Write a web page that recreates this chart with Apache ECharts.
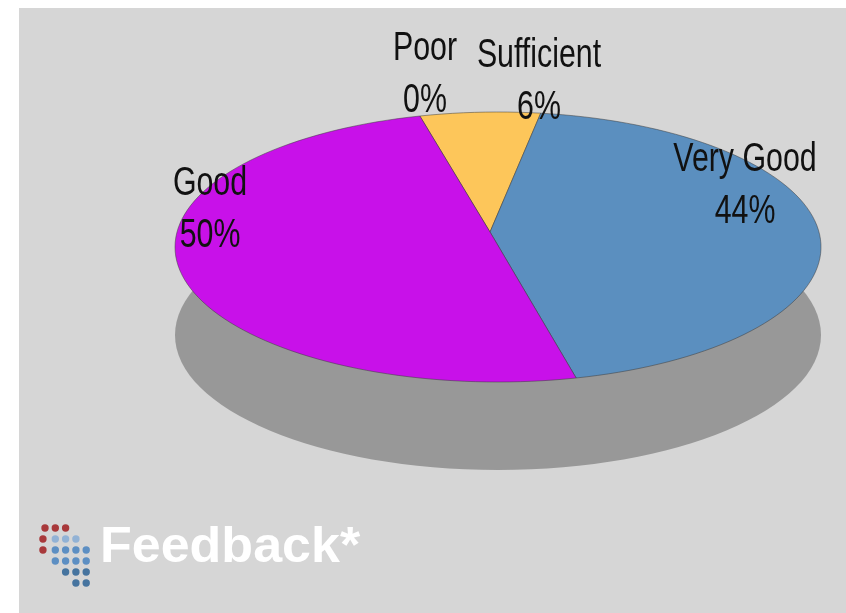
<!DOCTYPE html>
<html>
<head>
<meta charset="utf-8">
<title>Feedback</title>
<script src="https://cdn.jsdelivr.net/npm/echarts@6/dist/echarts.min.js"></script>
<style>
  html, body { margin: 0; padding: 0; background: #fff; }
  #main { width: 846px; height: 613px; }
</style>
</head>
<body>
<div id="main"></div>
<script>
// ratings, clockwise from the Poor / Sufficient edge
var categories = ["Poor", "Sufficient", "Very Good", "Good"];
var percents = [0, 6, 44, 50];
var sliceColors = ["#e0a040", "#fdc65a", "#5b8fbf", "#c811e9"];

// layout of the tilted pie
var PIE = { cx: 498, cy: 247, rx: 323, ry: 135, apexX: 490, apexY: 232, depth: 88, start: -14 };
// label block centres (x, y)
var labelPos = [[425, 75], [539, 82], [745, 186], [210, 210]];

var total = percents.reduce(function (a, b) { return a + b; }, 0);
var startAngles = [];
var acc = PIE.start;
percents.forEach(function (v) {
  startAngles.push(acc);
  acc += v / total * 360;
});

function rimPoint(deg) {
  var r = deg * Math.PI / 180;
  return [PIE.cx + PIE.rx * Math.sin(r), PIE.cy - PIE.ry * Math.cos(r)];
}

function renderSlice(params, api) {
  var i = params.dataIndex;
  var a0 = startAngles[i];
  var sweep = api.value(1) / total * 360;
  var pts = [[PIE.apexX, PIE.apexY]];
  var steps = Math.max(2, Math.ceil(sweep / 2));
  for (var s = 0; s <= steps; s++) {
    pts.push(rimPoint(a0 + sweep * s / steps));
  }
  return {
    type: "group",
    children: [
      {
        type: "polygon",
        shape: { points: pts },
        style: { fill: api.visual("color"), stroke: "rgba(60,60,60,0.5)", lineWidth: 1 }
      },
      {
        type: "text",
        x: labelPos[i][0],
        y: labelPos[i][1],
        scaleX: 0.74,
        z2: 10,
        style: {
          text: categories[i] + "\n" + api.value(1) + "%",
          font: '41px "Liberation Sans", Arial, sans-serif',
          lineHeight: 52,
          fill: "#111",
          align: "center",
          verticalAlign: "middle"
        }
      }
    ]
  };
}

// logo dots: [col, row, colour]
var dotRed = "#a8393b", dotLight = "#92b2d5", dotMid = "#5d8fc3", dotDark = "#46749f";
var logoDots = [];
[[0, 0], [1, 0], [2, 0]].forEach(function (p) { logoDots.push([p[0], p[1], dotRed]); });
logoDots.push([-0.2, 1, dotRed], [-0.2, 2, dotRed]);
[1, 2, 3].forEach(function (c) { logoDots.push([c, 1, dotLight]); });
[1, 2, 3, 4].forEach(function (c) { logoDots.push([c, 2, dotMid]); });
[1, 2, 3, 4].forEach(function (c) { logoDots.push([c, 3, dotMid]); });
[2, 3, 4].forEach(function (c) { logoDots.push([c, 4, dotDark]); });
[3, 4].forEach(function (c) { logoDots.push([c, 5, dotDark]); });

var graphics = [
  { type: "rect", z: -10, shape: { x: 19, y: 8, width: 827, height: 605 }, style: { fill: "#d6d6d6" } },
  { type: "ellipse", z: 0, shape: { cx: PIE.cx, cy: PIE.cy + PIE.depth, rx: PIE.rx, ry: PIE.ry }, style: { fill: "#989898" } },
  {
    type: "text", z: 1, x: 100, y: 548, scaleX: 1.04,
    style: { text: "Feedback*", font: 'bold 50px "Liberation Sans", Arial, sans-serif', fill: "#fff", verticalAlign: "middle" }
  }
];
logoDots.forEach(function (d) {
  graphics.push({
    type: "circle", z: 1,
    shape: { cx: 45 + d[0] * 10.3, cy: 528 + d[1] * 11, r: 3.7 },
    style: { fill: d[2] }
  });
});

var chart = echarts.init(document.getElementById("main"));
chart.setOption({
  animation: false,
  graphic: graphics,
  series: [
    {
      type: "custom",
      coordinateSystem: "none",
      z: 2,
      renderItem: renderSlice,
      data: percents.map(function (v, i) {
        return { name: categories[i], value: [i, v], itemStyle: { color: sliceColors[i] } };
      })
    }
  ]
});
</script>
</body>
</html>
